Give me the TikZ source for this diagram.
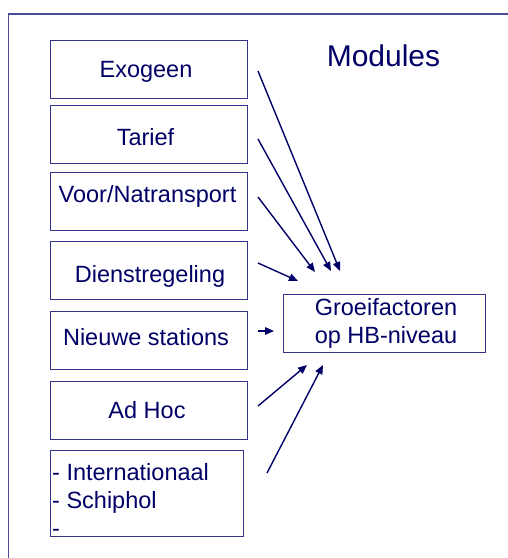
\documentclass[tikz,border=0pt]{standalone}
\usepackage{fontspec}
\setmainfont{Liberation Sans}
\usetikzlibrary{arrows.meta}
\definecolor{navy}{HTML}{000066}
\definecolor{framec}{HTML}{4A4A99}
\definecolor{boxc}{HTML}{33338A}
\begin{document}
\begin{tikzpicture}[x=1pt,y=-1pt,
  box/.style={draw=boxc, line width=1.1pt, inner sep=0pt, anchor=north west, minimum width=197pt, minimum height=58pt},
  lbl/.style={text=navy, font=\fontsize{23.5}{28}\selectfont, inner sep=0pt, anchor=base},
  lblw/.style={lbl, anchor=base west},
  arr/.style={draw=navy, line width=1.4pt, -{Triangle[length=9pt,width=7.5pt]}}]
\useasboundingbox[fill=white] (0,0) rectangle (508,558);
\draw[framec, line width=1.3pt] (8.5,558) -- (8.5,14) -- (508,14);

% boxes
\node[box] (exo) at (50,40) {};
\node[box] (tar) at (50,105) {};
\node[box] (voor) at (50,172) {};
\node[box] (dienst) at (50,241) {};
\node[box] (nieuw) at (50,311) {};
\node[box] (adhoc) at (50,381) {};
\node[box, minimum width=193pt, minimum height=86pt] (intl) at (50,450) {};
\node[box, minimum width=202pt] (groei) at (283,294) {};

% texts
\node[lbl, font=\fontsize{30}{36}\selectfont] (mod) at (383.5,66) {Modules};
\node[lbl] (texo) at (146,77) {Exogeen};
\node[lbl] (ttar) at (145.5,145) {Tarief};
\node[lbl] (tvoor) at (147.5,202) {Voor/Natransport};
\node[lbl] (tdienst) at (150,282) {Dienstregeling};
\node[lbl] (tnieuw) at (146,345) {Nieuwe stations};
\node[lbl] (tadhoc) at (147,418) {Ad Hoc};
\node[lblw] (tintla) at (52,480) {- Internationaal};
\node[lblw] (tintlb) at (52,508) {- Schiphol};
\node[lblw] (tintlc) at (52,536) {-};
\node[lbl] (tgroeia) at (386,315) {Groeifactoren};
\node[lbl] (tgroeib) at (386,343) {op HB-niveau};

% arrow end points
\coordinate (a1s) at (258,71);  \coordinate (a1e) at (340,271);
\coordinate (a2s) at (258,139); \coordinate (a2e) at (331,271);
\coordinate (a3s) at (258,197); \coordinate (a3e) at (315,272);
\coordinate (a4s) at (258,263); \coordinate (a4e) at (298,281);
\coordinate (a5s) at (258,331); \coordinate (a5e) at (274,331);
\coordinate (a6s) at (258,406); \coordinate (a6e) at (307,365);
\coordinate (a7s) at (267,473); \coordinate (a7e) at (323,365);

\draw[arr] (a1s) -- (a1e);
\draw[arr] (a2s) -- (a2e);
\draw[arr] (a3s) -- (a3e);
\draw[arr] (a4s) -- (a4e);
\draw[arr] (a5s) -- (a5e);
\draw[arr] (a6s) -- (a6e);
\draw[arr] (a7s) -- (a7e);
\end{tikzpicture}
\end{document}
